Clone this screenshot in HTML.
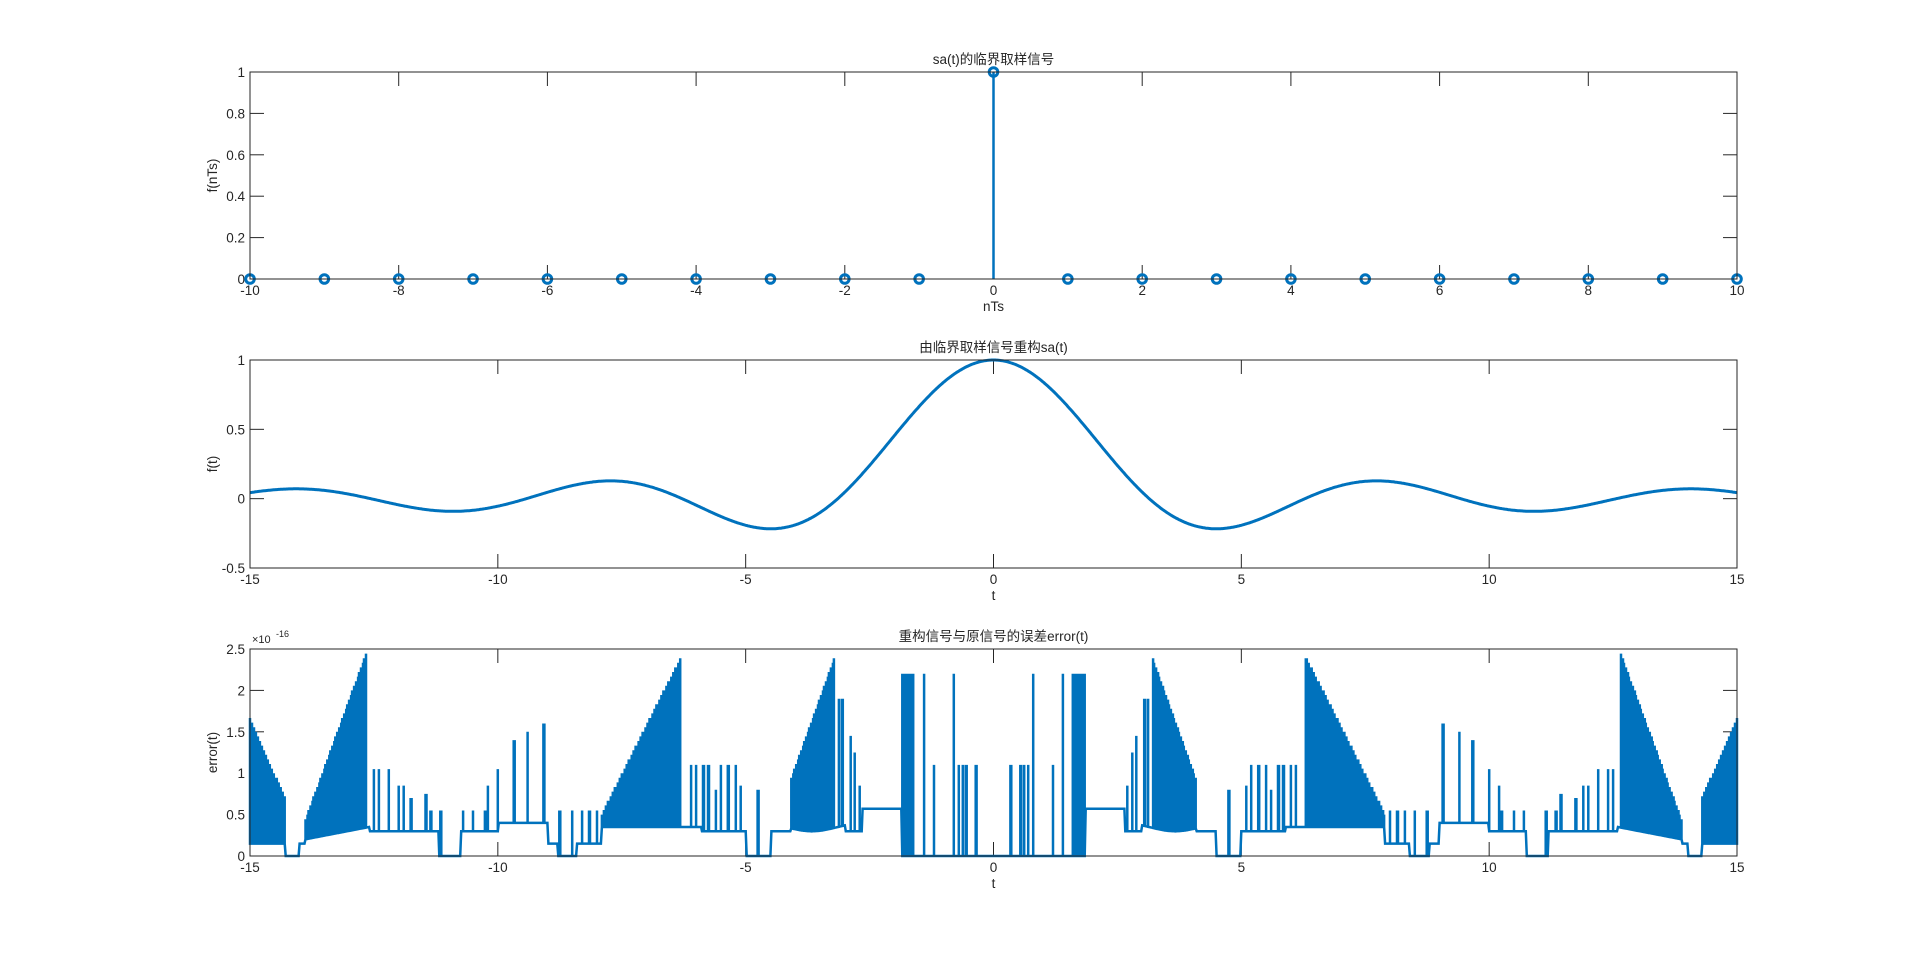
<!DOCTYPE html>
<html><head><meta charset="utf-8"><style>
html,body{margin:0;padding:0;background:#fff;width:1920px;height:962px;overflow:hidden}
svg{display:block}
text{font-family:"Liberation Sans","Noto Sans CJK SC",sans-serif;font-size:13.5px;fill:#262626}
</style></head><body>
<svg id="s" width="1920" height="962" xmlns="http://www.w3.org/2000/svg"></svg>
<script>
const S=document.getElementById('s');let h='';
const L=250,R=1737,W=R-L;
function axes(top,bot,xmin,xmax,xticks,ymin,ymax,yticks,ylab,xlab,title,yfmt){
  const X=v=>L+(v-xmin)/(xmax-xmin)*W, Y=v=>bot-(v-ymin)/(ymax-ymin)*(bot-top);
  let g='';
  for(const t of xticks){const x=X(t);g+=`<line x1="${x}" y1="${bot}" x2="${x}" y2="${bot-14}" stroke="#262626"/><line x1="${x}" y1="${top}" x2="${x}" y2="${top+14}" stroke="#262626"/><text x="${x}" y="${bot+16}" text-anchor="middle">${t}</text>`;}
  for(const t of yticks){const y=Y(t);g+=`<line x1="${L}" y1="${y}" x2="${L+14}" y2="${y}" stroke="#262626"/><line x1="${R}" y1="${y}" x2="${R-14}" y2="${y}" stroke="#262626"/><text x="${L-5}" y="${y+5}" text-anchor="end">${t}</text>`;}
  g+=`<text x="${(L+R)/2}" y="${bot+32}" text-anchor="middle">${xlab}</text>`;
  g+=`<text transform="translate(${217},${(top+bot)/2}) rotate(-90)" text-anchor="middle">${ylab}</text>`;
  g+=`<text x="${(L+R)/2}" y="${top-8}" text-anchor="middle">${title}</text>`;
  return {g,X,Y};
}
function box(top,bot){return `<rect x="${L}" y="${top}" width="${W}" height="${bot-top}" fill="none" stroke="#262626" stroke-width="1"/>`;}
const C='#0072BD';
let a=axes(72,279,-10,10,[-10,-8,-6,-4,-2,0,2,4,6,8,10],0,1,[0,0.2,0.4,0.6,0.8,1],'f(nTs)','nTs','sa(t)的临界取样信号');
let d='';
for(let n=-10;n<=10;n++){const v=n==0?1:0;d+=`<line x1="${a.X(n)}" y1="${a.Y(0)}" x2="${a.X(n)}" y2="${a.Y(v)}" stroke="${C}" stroke-width="2.5"/><circle cx="${a.X(n)}" cy="${a.Y(v)}" r="4.3" fill="none" stroke="${C}" stroke-width="3"/>`;}
h+=a.g+d+box(72,279);
a=axes(360,568,-15,15,[-15,-10,-5,0,5,10,15],-0.5,1,[-0.5,0,0.5,1],'f(t)','t','由临界取样信号重构sa(t)');
let p='';for(let i=0;i<=1500;i++){const t=-15+i*0.02;const v=Math.abs(t)<1e-9?1:Math.sin(t)/t;p+=(i?'L':'M')+a.X(t).toFixed(1)+','+a.Y(v).toFixed(1);}
h+=a.g+`<path d="${p}" fill="none" stroke="${C}" stroke-width="3"/>`+box(360,568);
a=axes(649,856,-15,15,[-15,-10,-5,0,5,10,15],0,2.5,[0,0.5,1,1.5,2,2.5],'error(t)','t','重构信号与原信号的误差error(t)');
h+=a.g+`<text x="${L+2}" y="${643}" style="font-size:11px">×10</text><text x="${L+26}" y="${637}" style="font-size:9px">-16</text>`;
function q(v){return Math.round(v*18)/18;}
function ramp(s,s0,v0,s1,v1){return v0+(v1-v0)*(s-s0)/(s1-s0);}
const spikes=[[0.35,1.1],[0.55,1.1],[0.62,1.1],[0.8,2.2],[0.7,1.1],[1.2,1.1],[1.4,2.2],
[2.7,0.85],[2.8,1.25],[2.88,1.45],[3.05,1.9],[3.12,1.9],[4.75,0.8],
[5.1,0.85],[5.2,1.1],[5.35,1.1],[5.5,1.1],[5.6,0.8],[5.75,1.1],[5.85,1.1],[6.0,1.1],[6.1,1.1],
[8.0,0.55],[8.15,0.55],[8.3,0.55],[8.5,0.55],[8.75,0.55],
[9.07,1.6],[9.4,1.5],[9.67,1.4],[10.0,1.05],[10.2,0.85],[10.25,0.55],[10.5,0.55],[10.7,0.55],[11.15,0.55],[11.35,0.55],[11.45,0.75],[11.75,0.7],[11.9,0.85],[12.0,0.85],[12.2,1.05],[12.4,1.05],[12.5,1.05]];
function base(s){
 if(s<1.6)return 0;if(s<1.85)return 0;if(s<2.65)return 0.57;if(s<3.0)return 0.3;
 if(s<4.1)return 0.35+0.05*Math.sin(s*3);if(s<4.5)return 0.3;if(s<5.0)return 0;
 if(s<5.9)return 0.3;if(s<7.9)return 0.35;if(s<9.0)return (s>8.4&&s<8.8)?0:0.15;
 if(s<10.0)return 0.4;if(s<10.75)return 0.3;if(s<11.2)return 0;if(s<12.6)return 0.3;
 if(s<13.9)return 0.35-0.15*(s-12.6)/1.3;if(s<14.3)return (s>14.0?0:0.15);return 0.15;
}
function dense(s){
 if(s>=1.6&&s<1.85)return 2.2;
 if(s>=3.2&&s<4.1)return q(ramp(s,3.2,2.4,4.1,0.9));
 if(s>=6.3&&s<7.9)return q(ramp(s,6.3,2.4,7.9,0.5));
 if(s>=12.65&&s<13.9)return q(ramp(s,12.65,2.45,13.9,0.4));
 if(s>=14.3)return q(ramp(s,14.3,0.7,15,1.65));
 return null;
}
p='';let k=0;
for(let i=0;i<=1500;i++){const t=-15+i*0.02;const s=Math.abs(t);
 const b=base(s),e=dense(s);const x=a.X(t).toFixed(1);
 let vals=[b];
 if(e!==null){vals=[b,e,b];}
 else{for(const sp of spikes){if(Math.abs(s-sp[0])<0.011){vals=[b,sp[1],b];}}}
 for(const v of vals){p+=(k++?'L':'M')+x+','+a.Y(v).toFixed(1);}
}
h+=`<path d="${p}" fill="none" stroke="${C}" stroke-width="2.5" stroke-linejoin="miter"/>`+box(649,856);
S.innerHTML=h;
</script>
</body></html>
